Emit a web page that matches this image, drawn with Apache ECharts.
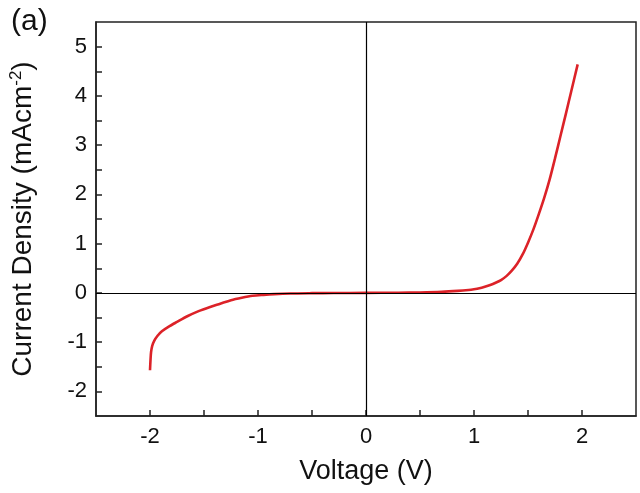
<!DOCTYPE html>
<html>
<head>
<meta charset="utf-8">
<script src="https://cdn.jsdelivr.net/npm/echarts@6/dist/echarts.min.js"></script>
<style>
html,body{margin:0;padding:0;background:#fff;}
#chart{width:640px;height:493px;}
</style>
</head>
<body>
<div id="chart"></div>
<script>
// Voltage (V)
const voltage = [-2.0, -1.995, -1.99, -1.98, -1.96, -1.93, -1.89, -1.83, -1.75, -1.65, -1.55, -1.45, -1.35, -1.25, -1.15, -1.05, -0.95, -0.85, -0.7, -0.5, -0.3, 0, 0.3, 0.5, 0.7, 0.85, 0.95, 1.0, 1.05, 1.1, 1.15, 1.2, 1.25, 1.3, 1.35, 1.4, 1.45, 1.5, 1.55, 1.6, 1.65, 1.7, 1.75, 1.8, 1.85, 1.9, 1.96];
// Current density (mA cm^-2)
const currentDensity = [-1.57, -1.35, -1.2, -1.08, -0.97, -0.87, -0.78, -0.69, -0.59, -0.47, -0.37, -0.29, -0.22, -0.15, -0.1, -0.06, -0.04, -0.025, -0.012, -0.006, -0.003, 0, 0.003, 0.008, 0.02, 0.04, 0.06, 0.075, 0.095, 0.125, 0.16, 0.205, 0.26, 0.34, 0.45, 0.59, 0.78, 1.02, 1.29, 1.6, 1.93, 2.3, 2.73, 3.18, 3.63, 4.09, 4.64];
const xTicks = [-2, -1, 0, 1, 2];
const yTicks = [-2, -1, 0, 1, 2, 3, 4, 5];

const chart = echarts.init(document.getElementById('chart'));
const font = 'Arial, "Liberation Sans", sans-serif';
const axisColor = '#222';
chart.setOption({
  animation: false,
  backgroundColor: '#fff',
  title: {
    text: '(a)', left: 6, top: 2,
    textStyle: {fontFamily: font, fontSize: 30, fontWeight: 'normal', color: '#111'}
  },
  grid: {left: 96, right: 4, top: 22, bottom: 77, show: true, borderColor: axisColor, borderWidth: 1.5, backgroundColor: 'transparent'},
  xAxis: {
    type: 'value', min: -2.5, max: 2.5, interval: 0.5,
    name: 'Voltage (V)', nameLocation: 'middle', nameGap: 42,
    nameTextStyle: {fontFamily: font, fontSize: 27, color: '#111'},
    axisLine: {show: true, onZero: false, lineStyle: {color: axisColor, width: 1.5}},
    axisTick: {show: true, inside: true, length: 6, lineStyle: {color: axisColor, width: 1.5},
      interval: 0},
    splitLine: {show: false},
    axisLabel: {
      fontFamily: font, fontSize: 22, color: '#111', margin: 10,
      formatter: v => xTicks.includes(v) ? String(v) : '',
      showMinLabel: false, showMaxLabel: false
    }
  },
  yAxis: {
    type: 'value', min: -2.5, max: 5.5, interval: 0.5,
    name: 'Current Density (mAcm{sup|-2})', nameLocation: 'middle', nameGap: 58,
    nameTextStyle: {fontFamily: font, fontSize: 28, color: '#111',
      rich: {sup: {fontFamily: font, fontSize: 17, color: '#111', verticalAlign: 'top', padding: [0,0,13,0]}}},
    axisLine: {show: true, onZero: false, lineStyle: {color: axisColor, width: 1.5}},
    axisTick: {show: true, inside: true, length: 6, lineStyle: {color: axisColor, width: 1.5}},
    splitLine: {show: false},
    axisLabel: {
      fontFamily: font, fontSize: 22, color: '#111', margin: 9,
      formatter: v => yTicks.includes(v) ? String(v) : '',
      showMinLabel: false, showMaxLabel: false
    }
  },
  series: [{
    type: 'line',
    data: voltage.map((v, i) => [v, currentDensity[i]]),
    showSymbol: false,
    smooth: 0.3,
    lineStyle: {color: '#dc2228', width: 2.6},
    markLine: {
      silent: true, symbol: 'none', label: {show: false},
      lineStyle: {color: '#000', width: 1.2, type: 'solid'},
      data: [{xAxis: 0}, {yAxis: 0}]
    },
    z: 3
  }]
});
</script>
</body>
</html>
